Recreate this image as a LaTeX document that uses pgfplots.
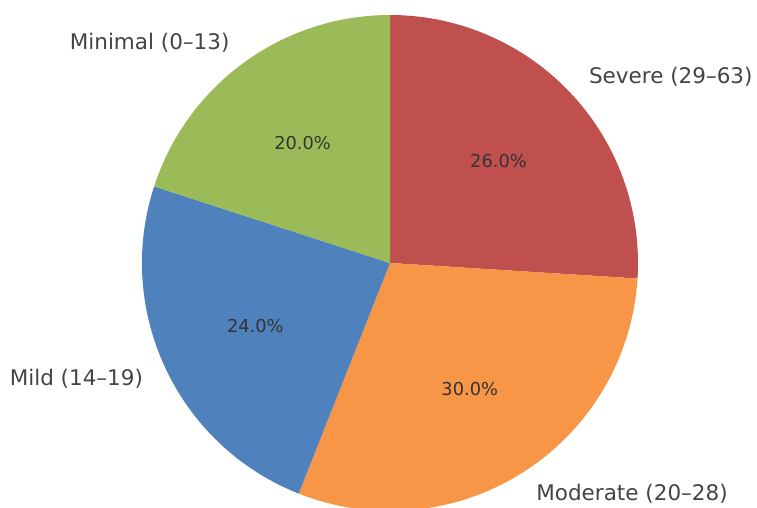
\documentclass[border=0pt]{standalone}
\usepackage{pgfplots}
\pgfplotsset{compat=1.18}
\usepackage{fontspec}
\setmainfont{DejaVu Sans}
\definecolor{cSev}{HTML}{C0504D}
\definecolor{cMod}{HTML}{F79646}
\definecolor{cMil}{HTML}{4F81BD}
\definecolor{cMin}{HTML}{9BBB59}
\definecolor{labgray}{HTML}{444444}
\def\cx{390}\def\cy{244}\def\R{248}
% #1 start angle, #2 value (percent), #3 colour, #4 label, #5 anchor
\newcommand\slice[5]{%
  \fill[#3] (axis cs:\cx,\cy) -- ++(#1:\R pt) arc[start angle={#1}, end angle={#1-3.6*#2}, radius=\R pt] -- cycle;
  \node[text=black!80, font=\fontsize{17.8}{21}\selectfont] at (axis cs:{\cx+0.6*\R*cos(#1-1.8*#2)},{\cy+0.6*\R*sin(#1-1.8*#2)}) {#2.0\%};
  \node[anchor=#5, inner sep=0pt, text=labgray, font=\fontsize{21.5}{25}\selectfont] at (axis cs:{\cx+1.1*\R*cos(#1-1.8*#2)},{\cy+1.1*\R*sin(#1-1.8*#2)}) {#4};
}
\begin{document}
\begin{tikzpicture}
\begin{axis}[hide axis, x=1pt, y=1pt, xmin=0, xmax=757, ymin=0, ymax=507, clip=true]
\slice{90}{26}{cSev}{Severe (29–63)}{west}
\slice{90-3.6*26}{30}{cMod}{Moderate (20–28)}{west}
\slice{90-3.6*56}{24}{cMil}{Mild (14–19)}{east}
\slice{90-3.6*80}{20}{cMin}{Minimal (0–13)}{east}
\coordinate (bl) at (axis cs:0,0);
\coordinate (tr) at (axis cs:757,507);
\end{axis}
\pgfresetboundingbox
\path (bl) rectangle (tr);
\end{tikzpicture}
\end{document}
